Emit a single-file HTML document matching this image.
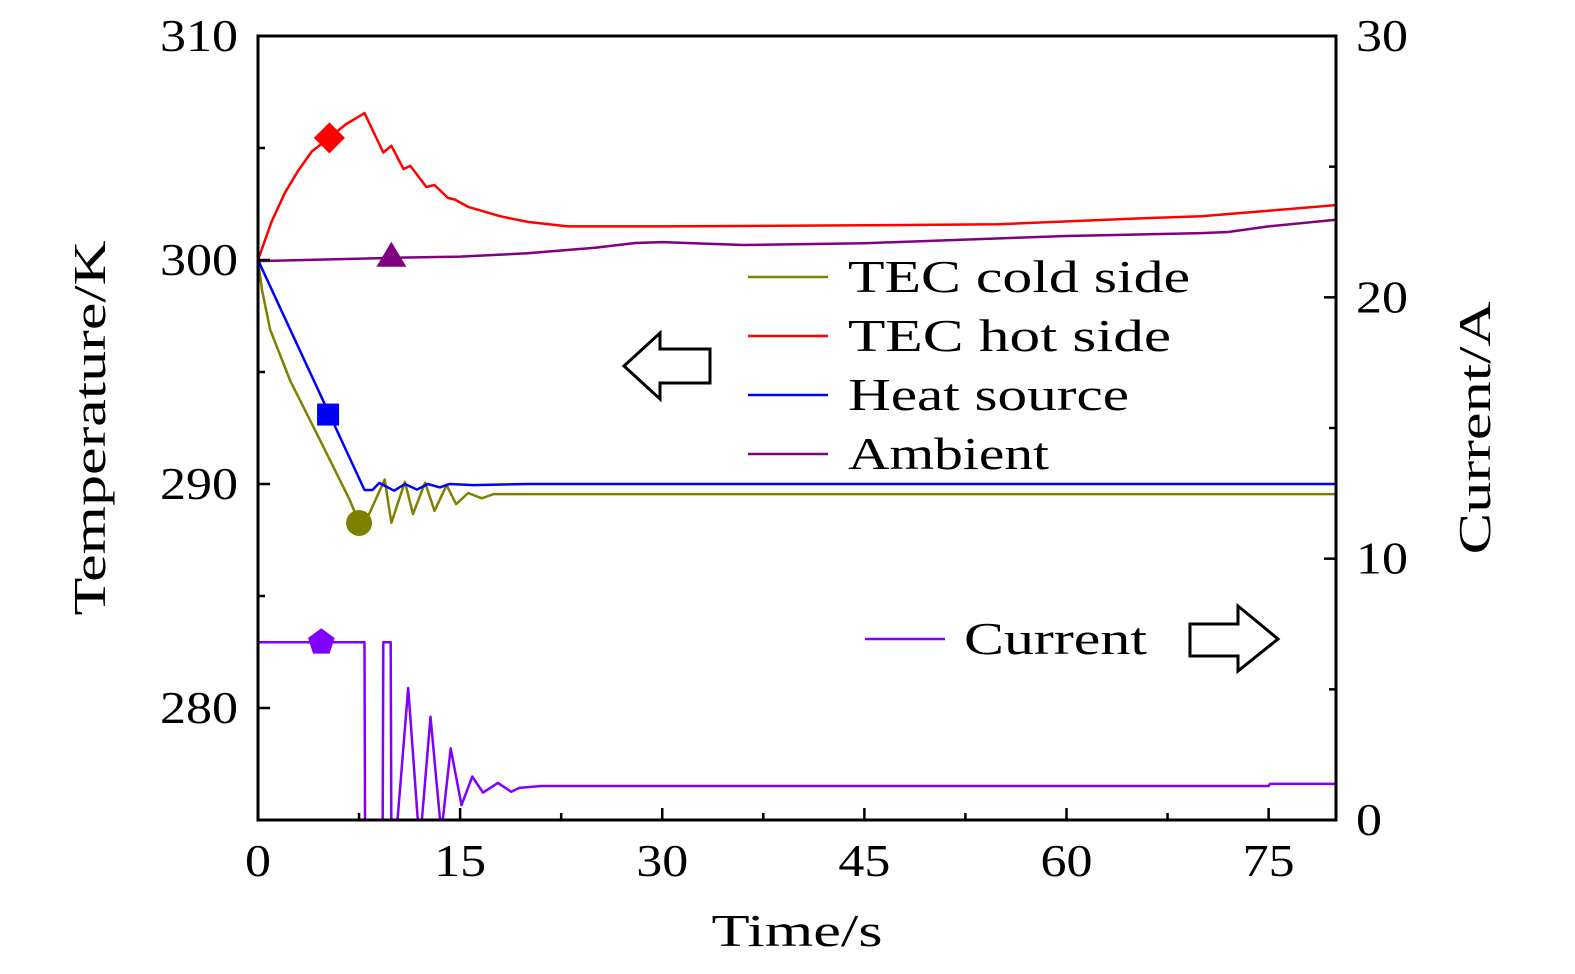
<!DOCTYPE html>
<html><head><meta charset="utf-8"><style>
html,body{margin:0;padding:0;background:#fff;}
svg{display:block;font-family:"Liberation Serif",serif;}
</style></head><body>
<svg id="chart" width="1575" height="974" viewBox="0 0 1575 974">
<defs><clipPath id="plotclip"><rect x="258" y="36" width="1078" height="784"/></clipPath></defs>
<g id="marks" clip-path="url(#plotclip)"></g>
<g id="axes"></g>
<g id="legend">
 <line x1="748" y1="277" x2="828" y2="277" stroke="#808000" stroke-width="2.5"/>
 <text x="848" y="292" font-size="46" textLength="342" lengthAdjust="spacingAndGlyphs">TEC cold side</text>
 <line x1="748" y1="336" x2="828" y2="336" stroke="#ff0000" stroke-width="2.5"/>
 <text x="848" y="351" font-size="46" textLength="323" lengthAdjust="spacingAndGlyphs">TEC hot side</text>
 <line x1="748" y1="395" x2="828" y2="395" stroke="#0000ff" stroke-width="2.5"/>
 <text x="848" y="410" font-size="46" textLength="281" lengthAdjust="spacingAndGlyphs">Heat source</text>
 <line x1="748" y1="454" x2="828" y2="454" stroke="#800080" stroke-width="2.5"/>
 <text x="848" y="469" font-size="46" textLength="201" lengthAdjust="spacingAndGlyphs">Ambient</text>
 <line x1="865" y1="639" x2="945" y2="639" stroke="#8000ff" stroke-width="2.5"/>
 <text x="964" y="654" font-size="46" textLength="183" lengthAdjust="spacingAndGlyphs">Current</text>
 <polygon points="624,366 660,333 660,349 710,349 710,383 660,383 660,399" fill="none" stroke="#000" stroke-width="3"/>
 <polygon points="1278,639 1238,606 1238,624 1190,624 1190,656 1238,656 1238,671" fill="none" stroke="#000" stroke-width="3"/>
</g>
</svg>
<script>
const hotT=[0,1,2,3,4,5.3,6.5,7.9,9.3,9.9,10.8,11.3,12.5,13.1,14.1,14.6,15.6,18,20,23,30,45,55,65,70,75,80];
const hotV=[300,301.7,303.0,304.0,304.85,305.45,306.05,306.56,304.8,305.1,304.06,304.2,303.26,303.35,302.77,302.7,302.37,301.95,301.7,301.5,301.5,301.55,301.6,301.85,301.95,302.2,302.45];
const ambT=[0,10,15,20,25,28,30,36,45,60,70,72,75,80];
const ambV=[299.95,300.1,300.15,300.3,300.55,300.76,300.8,300.67,300.75,301.07,301.2,301.25,301.5,301.8];
const heatT=[0,7.9,8.5,9.0,10.1,10.9,11.8,12.6,13.5,14.2,16,20,80];
const heatV=[300,289.73,289.73,290.05,289.7,290.0,289.75,290.0,289.85,290.0,289.95,290,290];
const coldT=[0,0.3,0.9,2.4,4.6,6.8,7.5,8.2,9.4,9.9,10.9,11.5,12.4,13.1,14.0,14.7,15.6,16.6,17.5,19,80];
const coldV=[300,298.66,296.9,294.6,291.96,289.3,288.26,288.6,290.2,288.27,290.1,288.66,290.06,288.8,289.95,289.1,289.6,289.36,289.55,289.55,289.55];
const curT=[0,7.9,7.95,9.25,9.3,9.85,9.9,10.2,11.15,12.0,12.8,13.6,14.3,15.1,15.9,16.7,17.8,18.8,19.4,21,75,75.1,80];
const curV=[6.8,6.8,-1,-1,6.8,6.8,-1,-1,5.05,-1,3.95,-0.5,2.74,0.57,1.66,1.05,1.42,1.08,1.23,1.3,1.3,1.38,1.38];
const xTicks=[0,15,30,45,60,75];
const yLTicks=[280,290,300,310];
const yRTicks=[0,10,20,30];

const X=t=>258+t*(1078/80);
const YL=v=>820-(v-275)*(784/35);
const YR=v=>820-v*(784/30);
const NS="http://www.w3.org/2000/svg";
const marks=document.getElementById('marks'), axes=document.getElementById('axes');
function mk(tag,attrs,parent){const e=document.createElementNS(NS,tag);for(const k in attrs)e.setAttribute(k,attrs[k]);parent.appendChild(e);return e;}
function line(ts,vs,yf,color,name){
  const d=ts.map((t,i)=>(i?'L':'M')+X(t).toFixed(1)+','+yf(vs[i]).toFixed(1)).join(' ');
  const p=mk('path',{d:d,fill:'none',stroke:color,'stroke-width':2.5,'stroke-linejoin':'round'},marks);
  
  
}
line(ambT,ambV,YL,'#800080','ambient-line');
line(hotT,hotV,YL,'#ff0000','hot-side-line');
line(coldT,coldV,YL,'#808000','cold-side-line');
line(heatT,heatV,YL,'#0000ff','heat-source-line');
line(curT,curV,YR,'#8000ff','current-line');

let m;
m=mk('rect',{x:-11,y:-11,width:22,height:22,fill:'#ff0000',transform:`translate(${X(5.3)},${YL(305.45)}) rotate(45)`},axes);


const tx=X(9.9),ty=YL(300.1);
m=mk('polygon',{points:`${tx},${ty-16} ${tx-15},${ty+9} ${tx+15},${ty+9}`,fill:'#800080'},axes);


m=mk('rect',{x:X(5.2)-11,y:YL(293.1)-11,width:22,height:22,fill:'#0000ff'},axes);


m=mk('circle',{cx:X(7.5),cy:YL(288.26),r:13,fill:'#808000'},axes);


const px=X(4.7),py=YR(6.8);
let pts=[];for(let i=0;i<5;i++){const a=-Math.PI/2+i*2*Math.PI/5;pts.push((px+14*Math.cos(a)).toFixed(1)+','+(py+14*Math.sin(a)).toFixed(1));}
m=mk('polygon',{points:pts.join(' '),fill:'#8000ff'},axes);



m=mk('rect',{x:258,y:36,width:1078,height:784,fill:'none',stroke:'#000','stroke-width':3},axes);


const digitW=26;
for(let t=0;t<=80;t+=7.5){const x=X(t);const major=(t%15===0);
  mk('line',{x1:x,y1:820,x2:x,y2:major?808:813,stroke:'#000','stroke-width':2.5},axes);}
xTicks.forEach(t=>{const s=String(t);const e=mk('text',{x:X(t),y:876,'font-size':46,'text-anchor':'middle',textLength:s.length*digitW,lengthAdjust:'spacingAndGlyphs'},axes);e.textContent=s;
  
  });
for(let v=275;v<=310;v+=5){const y=YL(v);const major=(v%10===0);
  mk('line',{x1:258,y1:y,x2:major?270:265,y2:y,stroke:'#000','stroke-width':2.5},axes);}
yLTicks.forEach(v=>{const s=String(v);const e=mk('text',{x:238,y:YL(v)+15,'font-size':46,'text-anchor':'end',textLength:s.length*digitW,lengthAdjust:'spacingAndGlyphs'},axes);e.textContent=s;
  
  });
for(let v=0;v<=30;v+=5){const y=YR(v);const major=(v%10===0);
  mk('line',{x1:1336,y1:y,x2:major?1324:1329,y2:y,stroke:'#000','stroke-width':2.5},axes);}
yRTicks.forEach(v=>{const s=String(v);const e=mk('text',{x:1356,y:YR(v)+15,'font-size':46,'text-anchor':'start',textLength:s.length*digitW,lengthAdjust:'spacingAndGlyphs'},axes);e.textContent=s;
  
  });
let e;
e=mk('text',{x:797,y:946,'font-size':46,'text-anchor':'middle',textLength:171,lengthAdjust:'spacingAndGlyphs'},axes);e.textContent='Time/s';


e=mk('text',{x:0,y:0,'font-size':46,'text-anchor':'middle',textLength:375,lengthAdjust:'spacingAndGlyphs',transform:'translate(105,428) rotate(-90)'},axes);e.textContent='Temperature/K';


e=mk('text',{x:0,y:0,'font-size':46,'text-anchor':'middle',textLength:253,lengthAdjust:'spacingAndGlyphs',transform:'translate(1490,428) rotate(-90)'},axes);e.textContent='Current/A';


</script>
</body></html>
